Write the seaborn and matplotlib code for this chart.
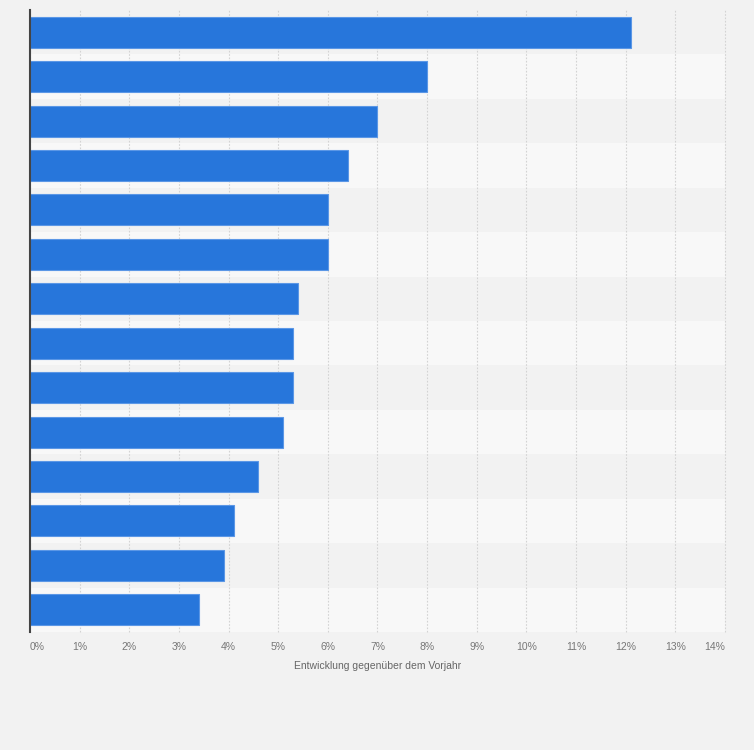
import numpy as np
import pandas as pd
import seaborn as sns
import matplotlib.pyplot as plt
from matplotlib.ticker import FuncFormatter

# Balken von oben nach unten, Kategorien im Original nicht beschriftet
categories = ["Rang %d" % i for i in range(1, 15)]
values = [12.1, 8.0, 7.0, 6.4, 6.0, 6.0, 5.4, 5.3, 5.3, 5.1, 4.6, 4.1, 3.9, 3.4]
x_ticks = list(range(0, 15))
x_label = "Entwicklung gegenüber dem Vorjahr"

df = pd.DataFrame({"kategorie": categories, "wert": values})

sns.set_style("white")
plt.rcParams["font.family"] = ["Liberation Sans", "DejaVu Sans"]

fig = plt.figure(figsize=(7.54, 7.5), dpi=100, facecolor="#f2f2f2")
ax = fig.add_axes([30 / 754, 1 - 632 / 750, 695 / 754, 622 / 750])
ax.set_facecolor("#f8f8f8")

# abwechselnde Zeilenstreifen
for i in range(len(categories)):
    if i % 2 == 0:
        ax.axhspan(i - 0.5, i + 0.5, color="#f2f2f2", zorder=0, lw=0)

sns.barplot(data=df, x="wert", y="kategorie", orient="h", color="#2776db",
            saturation=1, width=0.7, edgecolor="#5b97e6", linewidth=0.8,
            ax=ax, zorder=3)

ax.set_xlim(0, 14)
ax.set_ylim(len(categories) - 0.5, -0.5)
ax.set_xticks(x_ticks)
ax.xaxis.set_major_formatter(FuncFormatter(lambda v, p: "%d%%" % v))
ax.grid(axis="x", color="#d3d3d3", linestyle=(0, (1.5, 1.5)), linewidth=0.8, zorder=1)
ax.grid(axis="y", visible=False)
ax.set_axisbelow(True)
for gl in ax.get_xgridlines():
    gl.set_clip_on(False)

ax.set_yticks([])
ax.set_ylabel("")
ax.set_xlabel(x_label, fontsize=7.5, color="#666666", labelpad=7)
ax.tick_params(axis="x", length=0, pad=7, labelsize=7.5, labelcolor="#777777")

for side in ["top", "right", "bottom"]:
    ax.spines[side].set_visible(False)
ax.spines["left"].set_color("#444444")
ax.spines["left"].set_linewidth(1.5)
ax.spines["left"].set_zorder(5)

labels = ax.get_xticklabels()
labels[0].set_horizontalalignment("left")
labels[-1].set_horizontalalignment("right")

fig.savefig("out.png", dpi=100, facecolor=fig.get_facecolor())
